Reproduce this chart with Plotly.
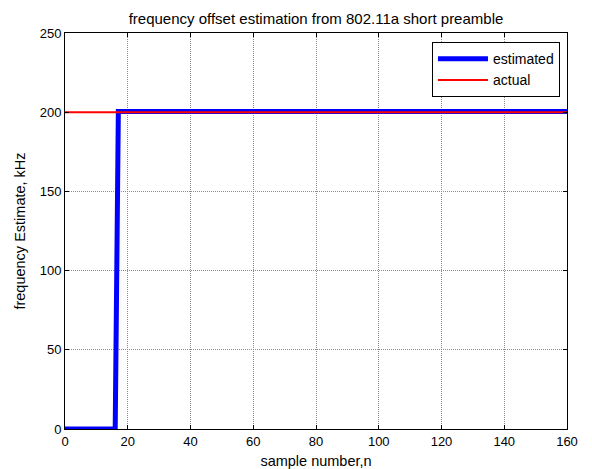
import plotly.graph_objects as go

# data
est_n = [0, 16, 17, 160]
est_val = [0, 0, 200.4, 200.4]
act_n = [0, 160]
act_val = [200, 200]
x_ticks = [0, 20, 40, 60, 80, 100, 120, 140, 160]
y_ticks = [0, 50, 100, 150, 200, 250]

fig = go.Figure()
fig.add_trace(go.Scatter(x=est_n, y=est_val, mode="lines", name="estimated",
                         line=dict(color="#0000ff", width=5)))
fig.add_trace(go.Scatter(x=act_n, y=act_val, mode="lines", name="actual",
                         line=dict(color="#ff0000", width=2)))

axis_common = dict(showline=True, linecolor="black", linewidth=1, mirror="ticks",
                   ticks="inside", ticklen=4, tickcolor="black",
                   showgrid=True, gridcolor="#8c8c8c", griddash="1px,1px", gridwidth=1,
                   zeroline=False, automargin=False, tickfont=dict(size=13, color="black"))

fig.update_layout(
    width=584, height=461,
    margin=dict(l=57, r=25, t=25, b=40),
    paper_bgcolor="white", plot_bgcolor="white",
    font=dict(family="Liberation Sans, Arial, sans-serif", size=13, color="black"),
    title=dict(text="frequency offset estimation from 802.11a short preamble",
               x=0.5, xanchor="center", xref="paper", y=0.988, yanchor="top",
               font=dict(size=15)),
    xaxis=dict(range=[0, 160], tickvals=x_ticks,
               title=dict(text="sample number,n", standoff=8, font=dict(size=14.5)),
               **axis_common),
    yaxis=dict(range=[0, 250], tickvals=y_ticks,
               title=dict(text="frequency Estimate, kHz", standoff=10, font=dict(size=14.5)),
               **axis_common),
    legend=dict(x=0.986, y=0.977, xanchor="right", yanchor="top",
                bgcolor="white", bordercolor="black", borderwidth=1,
                font=dict(size=14), tracegroupgap=0, itemwidth=50),
    showlegend=True,
)

fig.write_html("out.html")
